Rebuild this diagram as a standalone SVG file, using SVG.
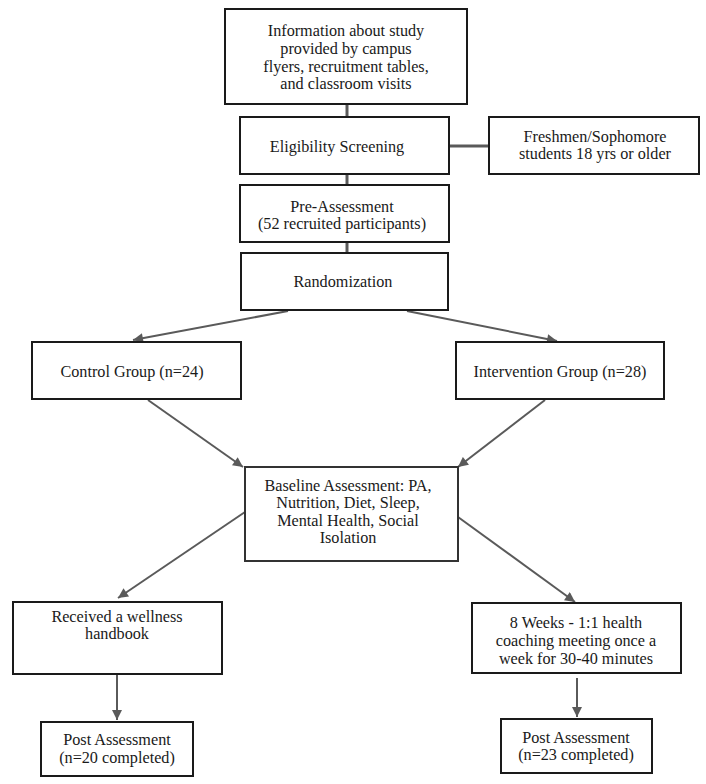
<svg xmlns="http://www.w3.org/2000/svg" width="706" height="784" viewBox="0 0 706 784">
<style>
.box{fill:#fff;stroke:#1a1a1a;stroke-width:2}
text{font-family:'Liberation Serif','DejaVu Serif',serif;font-size:16.2px;fill:#1a1a1a;text-anchor:middle}
.c{stroke:#5a5a5a;stroke-width:2;fill:none}
.c3{stroke:#5a5a5a;stroke-width:3;fill:none}
</style>
<defs>
<marker id="ah" viewBox="0 0 10 10" refX="10" refY="5" markerWidth="5.5" markerHeight="5" orient="auto" markerUnits="strokeWidth">
<path d="M0,0 L10,5 L0,10 z" fill="#5a5a5a"/>
</marker>
</defs>
<rect width="706" height="784" fill="#fff"/>
<g id="connectors">
<line class="c3" x1="347" y1="104" x2="347" y2="117"/>
<line class="c3" x1="449" y1="146" x2="489" y2="146"/>
<line class="c3" x1="347" y1="174" x2="347" y2="185"/>
<line class="c3" x1="347" y1="242" x2="347" y2="253"/>
<line class="c" x1="288" y1="311" x2="133" y2="340" marker-end="url(#ah)"/>
<line class="c" x1="407" y1="311" x2="557" y2="341" marker-end="url(#ah)"/>
<line class="c" x1="148" y1="400" x2="243" y2="467" marker-end="url(#ah)"/>
<line class="c" x1="545" y1="400" x2="458" y2="467" marker-end="url(#ah)"/>
<line class="c" x1="245" y1="512" x2="118" y2="598" marker-end="url(#ah)"/>
<line class="c" x1="458" y1="517" x2="575" y2="602" marker-end="url(#ah)"/>
<line class="c" x1="117" y1="674" x2="117" y2="720" marker-end="url(#ah)"/>
<line class="c" x1="577" y1="678" x2="577" y2="717" marker-end="url(#ah)"/>
</g>
<g id="info" font-family="Liberation Serif, serif">
<rect class="box" x="225" y="9" width="242" height="95"/>
<text x="346" y="36">Information about study</text>
<text x="346" y="54">provided by campus</text>
<text x="346" y="72">flyers, recruitment tables,</text>
<text x="346" y="89">and classroom visits</text>
</g>
<g id="eligibility">
<rect class="box" x="240" y="117" width="209" height="57"/>
<text x="337" y="152">Eligibility Screening</text>
</g>
<g id="criteria">
<rect class="box" x="489" y="117" width="210" height="57"/>
<text x="595" y="142">Freshmen/Sophomore</text>
<text x="595" y="159">students 18 yrs or older</text>
</g>
<g id="pre">
<rect class="box" x="240" y="185" width="209" height="57"/>
<text x="342" y="212">Pre-Assessment</text>
<text x="342" y="229">(52 recruited participants)</text>
</g>
<g id="random">
<rect class="box" x="241" y="253" width="207" height="57"/>
<text x="343" y="287">Randomization</text>
</g>
<g id="control">
<rect class="box" x="32" y="342" width="209" height="57"/>
<text x="132" y="377">Control Group (n=24)</text>
</g>
<g id="intervention">
<rect class="box" x="456" y="342" width="208" height="57"/>
<text x="560" y="377">Intervention Group (n=28)</text>
</g>
<g id="baseline">
<rect class="box" x="245" y="467" width="213" height="94" style="stroke:#333"/>
<text x="348" y="491">Baseline Assessment: PA,</text>
<text x="348" y="508">Nutrition, Diet, Sleep,</text>
<text x="348" y="526">Mental Health, Social</text>
<text x="348" y="543">Isolation</text>
</g>
<g id="handbook">
<rect class="box" x="13" y="602" width="209" height="72"/>
<text x="117" y="622">Received a wellness</text>
<text x="117" y="639">handbook</text>
</g>
<g id="coaching">
<rect class="box" x="472" y="603" width="209" height="70"/>
<text x="576" y="628">8 Weeks - 1:1 health</text>
<text x="576" y="646">coaching meeting once a</text>
<text x="576" y="664">week for 30-40 minutes</text>
</g>
<g id="post-control">
<rect class="box" x="41" y="722" width="152" height="54"/>
<text x="117" y="745">Post Assessment</text>
<text x="117" y="763">(n=20 completed)</text>
</g>
<g id="post-intervention">
<rect class="box" x="501" y="719" width="151" height="54"/>
<text x="576" y="743">Post Assessment</text>
<text x="576" y="760">(n=23 completed)</text>
</g>
</svg>
